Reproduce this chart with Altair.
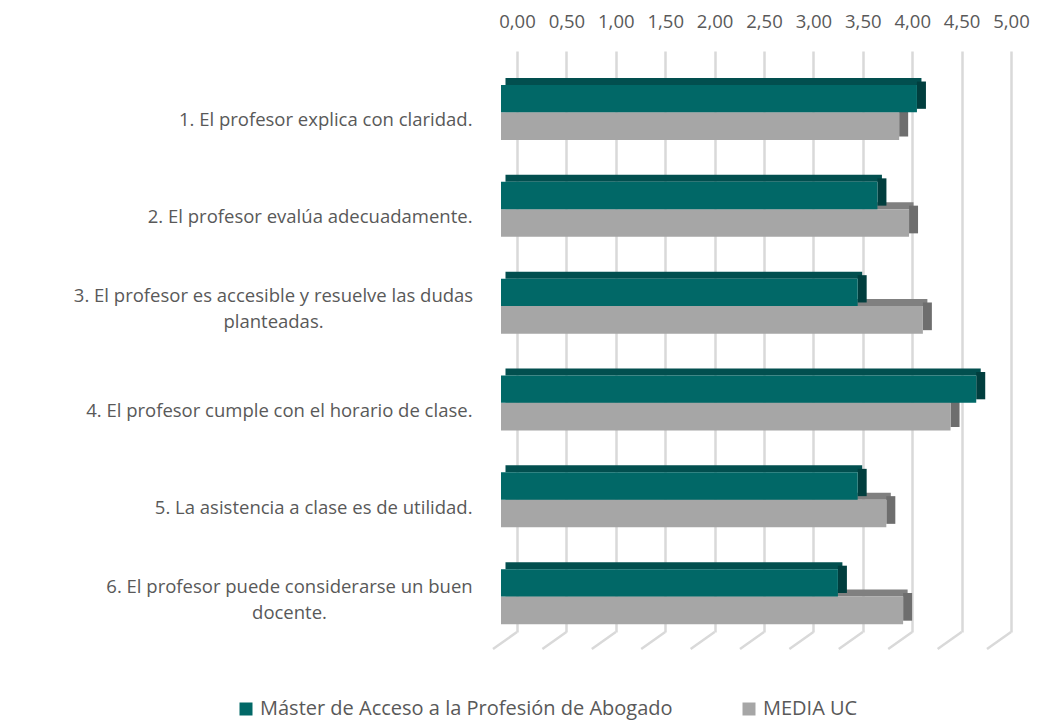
import altair as alt
import pandas as pd

categories = [
    "1. El profesor explica con claridad.",
    "2. El profesor evalúa adecuadamente.",
    "3. El profesor es accesible y resuelve las dudas\nplanteadas.",
    "4. El profesor cumple con el horario de clase.",
    "5. La asistencia a clase es de utilidad.",
    "6. El profesor puede considerarse un buen\ndocente.",
]
series = ["Máster de Acceso a la Profesión de Abogado", "MEDIA UC"]
master_values = [4.21, 3.81, 3.61, 4.81, 3.61, 3.41]
media_uc_values = [4.03, 4.13, 4.27, 4.55, 3.90, 4.07]
tick_values = [0, 0.5, 1, 1.5, 2, 2.5, 3, 3.5, 4, 4.5, 5]

front_colors = ["#016867", "#A6A6A6"]
top_colors = ["#024F4F", "#808080"]
side_colors = ["#013E3E", "#6E6E6E"]

rows = []
for c, m, u in zip(categories, master_values, media_uc_values):
    rows.append({"cat": c, "series": series[0], "value": m})
    rows.append({"cat": c, "series": series[1], "value": u})
df = pd.DataFrame(rows)
ticks_df = pd.DataFrame({"tick": tick_values})

W, H = 494, 581
FX = -16  # front-face horizontal shift relative to back wall
DX, DY = 9, 7  # depth of bars

xscale = alt.Scale(domain=[0, 5], nice=False, zero=False)
yscale = alt.Scale(domain=categories, paddingInner=0, paddingOuter=0)

y_axis = alt.Axis(
    title=None, domain=False, ticks=False, grid=False,
    labelExpr="split(datum.label, '\\n')",
    labelAlign={"expr": "indexof(datum.value, '\\n') >= 0 ? 'center' : 'right'"},
    labelPadding={"expr": "indexof(datum.value, 'dudas') >= 0 ? 244 : (indexof(datum.value, 'buen') >= 0 ? 228 : 45)"},
    labelOffset={"expr": "indexof(datum.value, '\\n') >= 0 ? 3 : 21"},
    labelBaseline="middle", labelLimit=600,
    labelFontSize=18.5, labelLineHeight=26, labelColor="#595959",
)
x_axis = alt.Axis(
    title=None, orient="top", values=tick_values, domain=False, ticks=False,
    grid=True, gridColor="#D9D9D9", gridWidth=2.5, labelOverlap=False,
    labelFlush=False,
    labelExpr="replace(format(datum.value, '.2f'), '.', ',')",
    labelPadding=20, labelFontSize=18.5, labelColor="#595959",
)

color_scale = alt.Scale(domain=series, range=front_colors)

base_grid = alt.Chart(ticks_df).mark_rule(
    color="#D9D9D9", strokeWidth=2.5, x2Offset=-24
).encode(
    x=alt.X("tick:Q", scale=xscale, axis=x_axis),
    x2=alt.X2("tick:Q"),
    y=alt.value(H),
    y2=alt.value(H + 17),
)

# relative geometry of front faces (top, bottom) from band centre
geom = {
    series[1]: (12.9, 40.6),
    series[0]: (-14.4, 12.9),
}

layers = [base_grid]
for idx in [1, 0]:
    s = series[idx]
    yt, yb = geom[s]
    h = yb - yt
    yc = (yt + yb) / 2
    sub = alt.Chart(df).transform_filter(alt.datum.series == s)
    top = sub.mark_bar(
        color=top_colors[idx], height=DY, yOffset=yt - DY / 2,
        xOffset=FX + DX / 2, x2Offset=FX + DX / 2,
    ).encode(
        y=alt.Y("cat:N", scale=yscale, axis=y_axis, sort=categories),
        x=alt.X("value:Q", scale=xscale, title=None),
    )
    side = sub.mark_bar(
        color=side_colors[idx], height=h, yOffset=yc - DY / 2,
        xOffset=FX, x2Offset=FX + DX,
    ).encode(
        y=alt.Y("cat:N", scale=yscale, sort=categories),
        x=alt.X("value:Q", scale=xscale, title=None),
        x2=alt.X2("value:Q"),
    )
    front = sub.mark_bar(
        height=h, yOffset=yc, xOffset=FX, x2Offset=FX,
    ).encode(
        y=alt.Y("cat:N", scale=yscale, sort=categories),
        x=alt.X("value:Q", scale=xscale, title=None),
        color=alt.Color(
            "series:N", scale=color_scale, sort=series,
            legend=alt.Legend(
                title=None, orient="none", legendX=-281, legendY=648,
                direction="horizontal", symbolType="square", symbolSize=169,
                symbolStrokeWidth=0, labelFontSize=20, labelColor="#595959",
                columnPadding=66, labelOffset=4, labelLimit=800,
            ),
        ),
    )
    layers += [top, side, front]

chart = alt.layer(*layers).properties(
    width=W, height=H,
    autosize=alt.AutoSizeParams(type="none"),
    padding={"left": 509, "top": 43, "right": 27, "bottom": 88},
).configure(font="Open Sans").configure_view(stroke=None)

chart.save("out.html", embed_options={"renderer": "svg", "actions": False})
